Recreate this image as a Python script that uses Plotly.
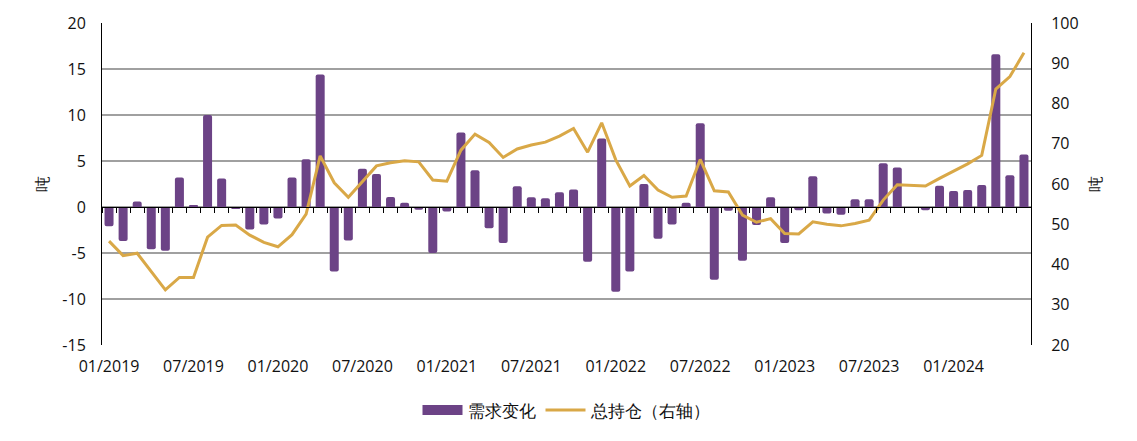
import pandas as pd
import plotly.graph_objects as go

# Categories: monthly, 01/2019 .. 06/2024
months = [d.strftime("%m/%Y") for d in pd.date_range("2019-01-01", "2024-06-01", freq="MS")]

# 需求变化 (left axis, 吨)
demand_change = [
    -2.1, -3.7, 0.6, -4.6, -4.75, 3.2, 0.2, 10.0, 3.1, -0.2, -2.45, -1.9,
    -1.25, 3.2, 5.2, 14.4, -7.0, -3.65, 4.15, 3.6, 1.1, 0.45, -0.3, -5.0,
    -0.5, 8.1, 4.0, -2.3, -3.9, 2.25, 1.05, 0.95, 1.6, 1.9, -5.95, 7.45,
    -9.2, -7.0, 2.5, -3.45, -1.9, 0.45, 9.1, -7.9, -0.4, -5.85, -1.95, 1.05,
    -3.9, -0.35, 3.35, -0.7, -0.85, 0.85, 0.85, 4.75, 4.3, 0.0, -0.35, 2.3,
    1.75, 1.85, 2.4, 16.6, 3.45, 5.7,
]

# 总持仓 (right axis, 吨)
total_holdings = [
    45.8, 42.2, 42.8, 38.2, 33.7, 36.8, 36.8, 46.8, 49.7, 49.8, 47.3, 45.5,
    44.4, 47.4, 52.5, 67.0, 60.3, 56.7, 60.6, 64.5, 65.3, 65.8, 65.5, 61.0,
    60.7, 68.4, 72.4, 70.3, 66.6, 68.7, 69.7, 70.4, 71.9, 73.8, 67.9, 75.2,
    66.0, 59.5, 62.1, 58.5, 56.7, 57.0, 66.1, 58.3, 58.0, 52.3, 50.5, 51.4,
    47.7, 47.6, 50.6, 50.0, 49.6, 50.2, 51.0, 56.0, 59.8, 59.7, 59.5, 61.4,
    63.2, 65.0, 67.1, 83.6, 86.7, 92.6,
]

tick_labels = months[::6]
left_ticks = [-15, -10, -5, 0, 5, 10, 15, 20]
left_tick_text = ["-15", "-10", "-5", "0", "5", "10", "15", "20"]
right_ticks = [20, 30, 40, 50, 60, 70, 80, 90, 100]
right_tick_text = [str(v) for v in right_ticks]

PURPLE = "#6c4386"
GOLD = "#d9a847"
GRID = "#a0a0a0"
FONT = "Open Sans"
FS = 16

fig = go.Figure()
fig.add_trace(go.Bar(
    x=months, y=demand_change, name="需求变化", showlegend=False,
    marker=dict(color=PURPLE, cornerradius=2, line=dict(width=0)),
    xaxis="x", yaxis="y",
))
# legend swatch for the bars (wide rectangle like the reference)
fig.add_trace(go.Scatter(
    x=[None], y=[None], name="需求变化", mode="lines",
    line=dict(color=PURPLE, width=14), xaxis="x", yaxis="y",
))
fig.add_trace(go.Scatter(
    x=months, y=total_holdings, name="总持仓（右轴）", mode="lines",
    line=dict(color=GOLD, width=3),
    xaxis="x2", yaxis="y2",
))

cat_range = [-0.5, len(months) - 0.5]

fig.update_layout(
    width=1121, height=425,
    margin=dict(l=94, r=98, t=15, b=88, autoexpand=False),
    paper_bgcolor="white", plot_bgcolor="white",
    font=dict(family=FONT, size=FS, color="#111111"),
    bargap=0.36,
    showlegend=True,
    legend=dict(orientation="h", x=0.5, xanchor="center", y=-0.203, yanchor="middle",
                font=dict(size=17), traceorder="normal", itemwidth=40,
                tracegroupgap=0),
    xaxis=dict(
        type="category", categoryorder="array", categoryarray=months,
        range=cat_range, anchor="free", position=15 / 35, automargin=False,
        showline=True, linecolor="black", linewidth=1,
        ticks="outside", tickson="boundaries", ticklen=5, tickcolor="black",
        dtick=1, showticklabels=False, showgrid=False, zeroline=False,
    ),
    xaxis2=dict(
        type="category", categoryorder="array", categoryarray=months,
        range=cat_range, overlaying="x", anchor="free", position=0, side="bottom",
        automargin=False,
        showline=False, ticks="", tickmode="array", tickvals=tick_labels, ticktext=tick_labels,
        showgrid=False, zeroline=False, tickfont=dict(size=FS), ticklabelstandoff=10,
    ),
    yaxis=dict(
        range=[-15, 20], tickmode="array", tickvals=left_ticks, ticktext=left_tick_text,
        showgrid=True, gridcolor=GRID, gridwidth=1.5, automargin=False,
        zeroline=False, showline=True, linecolor="black", linewidth=1,
        ticks="", ticklabelstandoff=12,
        title=dict(text="吨", font=dict(size=FS), standoff=9),
        tickfont=dict(size=FS),
    ),
    yaxis2=dict(
        range=[20, 100], tickmode="array", tickvals=right_ticks, ticktext=right_tick_text,
        overlaying="y", side="right", automargin=False,
        showgrid=False, zeroline=False, showline=True, linecolor="black", linewidth=1,
        ticks="", ticklabelstandoff=16,
        title=dict(text="吨", font=dict(size=FS), standoff=12),
        tickfont=dict(size=FS),
    ),
)

fig.write_html("out.html")
